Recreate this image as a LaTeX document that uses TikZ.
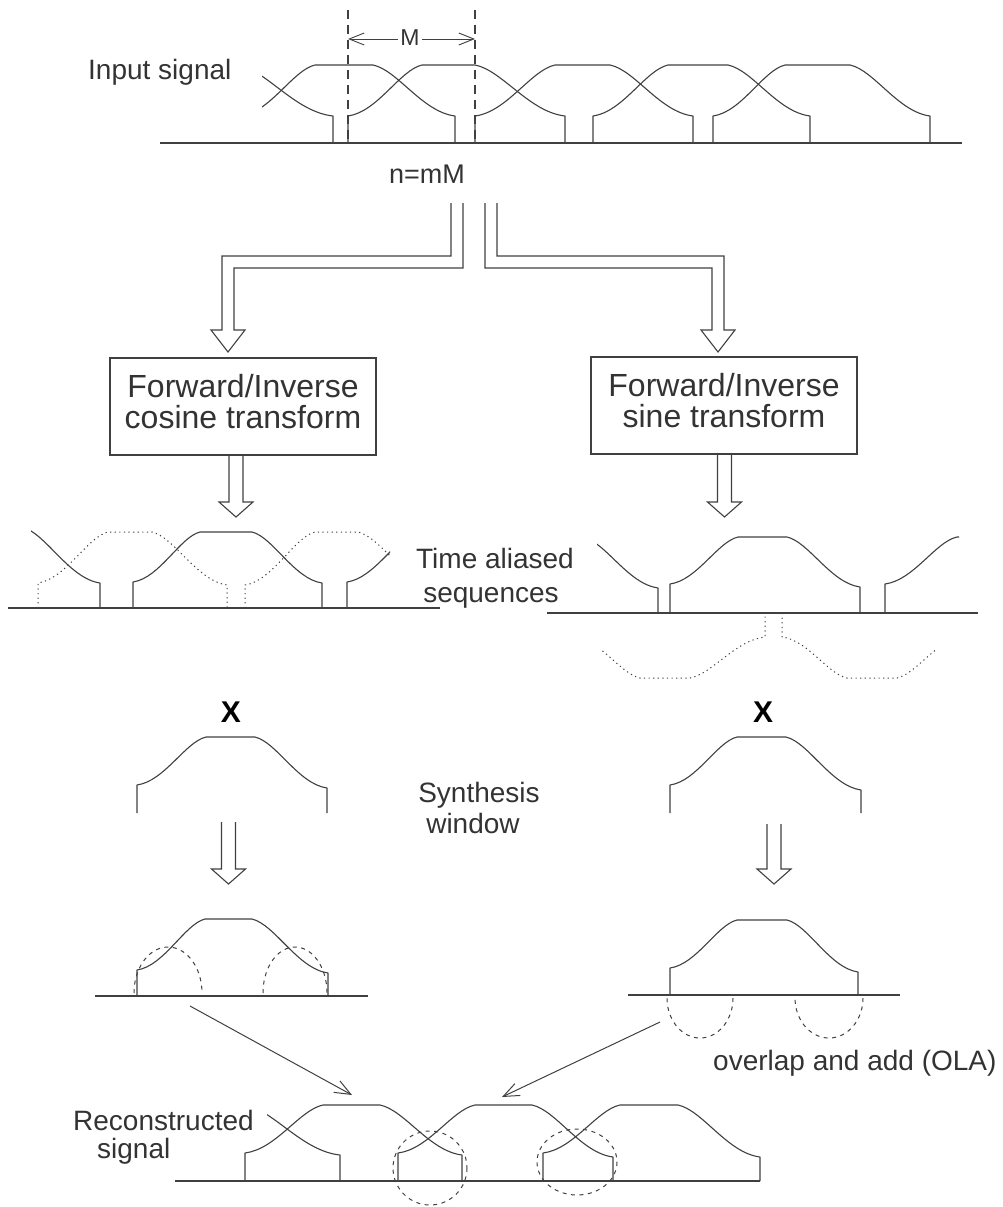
\documentclass[tikz,border=0pt]{standalone}
\usepackage{fontspec}
\setmainfont{Liberation Sans}
\usetikzlibrary{arrows.meta}
\definecolor{ink}{HTML}{404040}
\definecolor{txt}{HTML}{333333}
\tikzset{
  wline/.style={draw=ink, line width=1.1pt, line join=round},
  dotl/.style={draw=ink, line width=1pt, dash pattern=on 1.2pt off 3.4pt},
  dashl/.style={draw=ink, line width=1pt, dash pattern=on 4pt off 4.5pt},
  axisline/.style={draw=ink, line width=1.3pt},
  lbl/.style={text=txt, font=\fontsize{28}{32}\selectfont, inner sep=0pt},
  box/.style={draw=ink, line width=1.1pt, minimum width=266pt, minimum height=97pt,
    align=center, text=txt, font=\fontsize{32}{31}\selectfont, inner sep=0pt},
  hollow/.style={draw=ink, line width=1.1pt, line join=miter},
  thinarrow/.style={draw=ink, line width=1pt, -{Straight Barb[length=16pt,width=13pt]}},
}
% window shape: style, L, P1, P2, R, yEndL, yEndR, yTop, base
\newcommand\wshape[9]{%
  \draw[#1] (#2,#9) -- (#2,#6)
   .. controls ({#2+0.4*(#3-#2)},{#6+0.08*(#8-#6)}) and ({#2+0.7*(#3-#2)},{#6+0.9*(#8-#6)}) .. (#3,#8)
   -- (#4,#8)
   .. controls ({#4+0.3*(#5-#4)},{#8+0.1*(#7-#8)}) and ({#4+0.6*(#5-#4)},{#8+0.92*(#7-#8)}) .. (#5,#7)
   -- (#5,#9);}
% hollow down arrow: x centre, y top, y head base, y tip
\newcommand\hdown[4]{%
  \draw[hollow] ({#1-7},#2) -- ({#1-7},#3) -- ({#1-17},#3) -- (#1,#4) -- ({#1+17},#3) -- ({#1+7},#3) -- ({#1+7},#2);}
\begin{document}
\begin{tikzpicture}[x=1pt,y=-1pt]
\useasboundingbox (0,0) rectangle (1003,1207);

% ---------------- input signal ----------------
\node[lbl, anchor=base west] (insig) at (88,80) {Input signal};
\draw[axisline] (160,143) -- (962,143);
\draw[wline, dash pattern=on 9pt off 6pt] (348,10) -- (348,143);
\draw[wline, dash pattern=on 9pt off 6pt] (475,10) -- (475,143);
\coordinate (mL) at (348,39);
\coordinate (mR) at (475,39);
\draw[draw=ink, line width=0.9pt, {Straight Barb[length=15pt,width=12pt]}-{Straight Barb[length=15pt,width=12pt]}] (mL) -- (mR);
\node[lbl, font=\fontsize{23}{25}\selectfont, fill=white, inner xsep=2pt, anchor=base] (mlab) at (410,46) {M};
\begin{scope}
  \clip (262,0) rectangle (1003,150);
  \wshape{wline}{50}{130}{238}{333}{116}{116}{65}{143}
  \wshape{wline}{241}{315}{373}{455}{116}{116}{65}{143}
  \wshape{wline}{348}{422}{475}{565}{116}{116}{65}{143}
  \wshape{wline}{475}{555}{610}{693}{116}{116}{65}{143}
  \wshape{wline}{593}{668}{728}{810}{116}{116}{65}{143}
  \wshape{wline}{713}{785}{850}{930}{116}{116}{65}{143}
\end{scope}
\node[lbl, font=\fontsize{27}{30}\selectfont, anchor=base] (nmm) at (427,183) {n=mM};

% ---------------- split arrows ----------------
\draw[hollow] (451,203) -- (451,256) -- (222,256) -- (222,330) -- (211,330) -- (228,352)
  -- (245,330) -- (234,330) -- (234,268) -- (463,268) -- (463,203);
\draw[hollow] (485,203) -- (485,268) -- (712,268) -- (712,330) -- (701,330) -- (718,352)
  -- (735,330) -- (724,330) -- (724,256) -- (497,256) -- (497,203);

% ---------------- boxes ----------------
\node[box] (fwdc) at (243,406.5) {Forward/Inverse\\cosine transform\strut};
\node[box] (fwds) at (724,405.5) {Forward/Inverse\\sine transform\strut};
\hdown{236}{456}{502}{517}
\hdown{724.5}{455}{502}{517}

% ---------------- time aliased (cosine) ----------------
\draw[axisline] (8,608) -- (440,608);
\begin{scope}
  \clip (31,500) rectangle (390,620);
  \wshape{wline}{0}{5}{22}{100}{583}{583}{527}{608}
  \wshape{wline}{133}{200}{252}{322}{582}{583}{532}{608}
  \wshape{wline}{347}{417}{470}{540}{582}{582}{532}{608}
  \wshape{dotl}{38}{108}{152}{227}{583}{585}{532}{608}
  \wshape{dotl}{245}{315}{358}{434}{585}{585}{532}{608}
\end{scope}
\node[lbl, anchor=base] (tas1) at (495,568) {Time aliased};
\node[lbl, anchor=base] (tas2) at (491,602) {sequences};

% ---------------- time aliased (sine) ----------------
\draw[axisline] (547,613) -- (978,613);
\begin{scope}
  \clip (597,500) rectangle (959,612);
  \wshape{wline}{450}{520}{583}{658}{588}{588}{537}{613}
  \wshape{wline}{670}{738}{787}{860}{584}{587}{537}{613}
  \wshape{wline}{885}{957}{1010}{1080}{584}{584}{537}{613}
\end{scope}
\begin{scope}
  \clip (600,614) rectangle (937,700);
  \wshape{dotl}{575}{640}{690}{765}{637}{637}{678}{613}
  \wshape{dotl}{782}{847}{897}{962}{637}{637}{678}{613}
\end{scope}

% ---------------- synthesis window ----------------
\node[lbl, text=black, font=\bfseries\fontsize{30}{34}\selectfont, anchor=base] (x1) at (231,722) {X};
\node[lbl, text=black, font=\bfseries\fontsize{30}{34}\selectfont, anchor=base] (x2) at (763,722) {X};
\wshape{wline}{137}{206}{255}{327}{785}{788}{737}{813}
\wshape{wline}{670}{737}{786}{861}{785}{790}{737}{813}
\node[lbl, anchor=base] (syn1) at (479,802) {Synthesis};
\node[lbl, anchor=base] (syn2) at (473,833) {window};
\hdown{228.5}{822}{869}{884}
\hdown{774}{824}{869}{884}

% ---------------- windowed blocks ----------------
\draw[axisline] (95,996) -- (368,996);
\wshape{wline}{137}{205}{252}{328}{970}{973}{919}{996}
\draw[dashl] plot[domain=180:360, samples=40] ({168+34*cos(\x)},{993+46*sin(\x)});
\draw[dashl] plot[domain=180:360, samples=40] ({295+32*cos(\x)},{993+46*sin(\x)});

\draw[axisline] (628,995) -- (900,995);
\wshape{wline}{670}{737}{787}{858}{968}{972}{920}{995}
\draw[dashl] plot[domain=0:180, samples=40] ({700+33*cos(\x)},{998+40*sin(\x)});
\draw[dashl] plot[domain=0:180, samples=40] ({829+34*cos(\x)},{998+40*sin(\x)});
\node[lbl, anchor=base west] (ola) at (713,1070) {overlap and add (OLA)};

\coordinate (oL) at (190,1006);
\coordinate (tL) at (352,1095);
\coordinate (oR) at (660,1022);
\coordinate (tR) at (502,1097);
\draw[thinarrow] (oL) -- (tL);
\draw[thinarrow] (oR) -- (tR);

% ---------------- reconstructed ----------------
\node[lbl, anchor=base west] (rec1) at (73,1130) {Reconstructed};
\node[lbl, anchor=base west] (rec2) at (97,1158) {signal};
\draw[axisline] (175,1181) -- (760,1181);
\begin{scope}
  \clip (267,1090) rectangle (800,1190);
  \wshape{wline}{90}{170}{245}{340}{1155}{1155}{1105}{1181}
\end{scope}
\wshape{wline}{245}{323}{380}{462}{1153}{1155}{1105}{1181}
\wshape{wline}{398}{475}{532}{613}{1153}{1157}{1105}{1181}
\wshape{wline}{543}{620}{678}{760}{1153}{1157}{1105}{1181}
\draw[dashl] plot[domain=0:360, samples=72] ({430+37*cos(\x)},{1168+37*sin(\x)});
\draw[dashl] plot[domain=0:360, samples=72] ({577+40*cos(\x)},{1162+33*sin(\x)});
\end{tikzpicture}
\end{document}
